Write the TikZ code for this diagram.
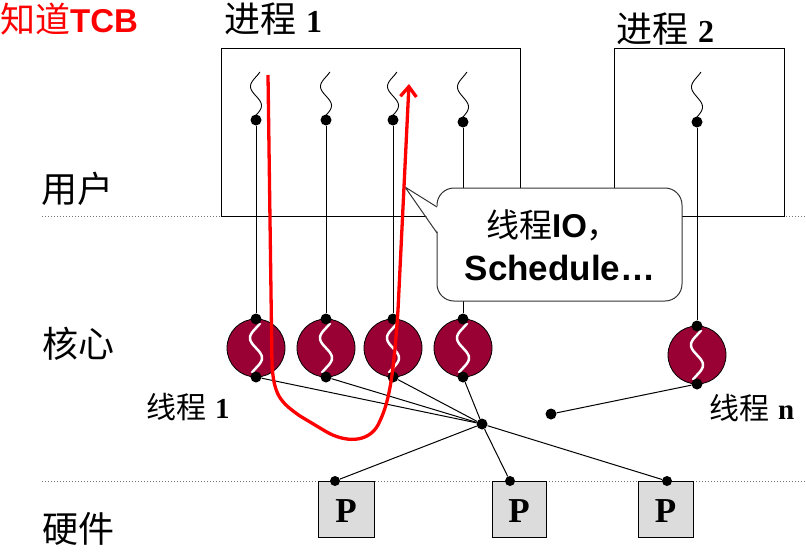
\documentclass[tikz,border=0pt]{standalone}
\usepackage{fontspec}
\setmainfont{Liberation Serif}
\newfontfamily\cjk{Noto Sans CJK SC}
\newfontfamily\arialf{Liberation Sans}
\usetikzlibrary{arrows.meta}
\definecolor{kmaroon}{HTML}{990033}
\definecolor{pgray}{HTML}{DCDCDC}
\begin{document}
\begin{tikzpicture}[x=1pt,y=-1pt,
  dot/.style={circle,fill=black,inner sep=0pt,minimum size=11pt},
  cpu/.style={circle,draw=black,line width=0.8pt,fill=kmaroon,minimum size=58pt,inner sep=0pt},
  pbox/.style={draw=black,line width=1pt,fill=pgray,minimum size=55pt,inner sep=0pt},
  procbox/.style={draw=black,line width=1pt,inner sep=0pt},
  conn/.style={line width=1pt,black},
  sepline/.style={black!55,dotted,line width=1pt},
  lbl/.style={font=\cjk\fontsize{36}{40}\selectfont,anchor=base west,inner sep=0pt},
  slbl/.style={font=\cjk\fontsize{30}{34}\selectfont,anchor=base west,inner sep=0pt},
  btxt/.style={font=\fontsize{33}{38}\selectfont,anchor=base,inner sep=0pt}]
\useasboundingbox (0,0) rectangle (806,552);
% separators
\coordinate (s1a) at (42,216); \coordinate (s1b) at (806,216);
\coordinate (s2a) at (42,481); \coordinate (s2b) at (806,481);
\draw[sepline] (s1a) -- (s1b);
\draw[sepline] (s2a) -- (s2b);
% process boxes
\node[procbox,minimum width=299pt,minimum height=168pt] (proc1) at (370.5,132) {};
\node[procbox,minimum width=170pt,minimum height=168pt] (proc2) at (699,132) {};
% user threads
\foreach \n/\x/\y in {1/256/120,2/326/120,3/393/120,4/463/122,n/697/122}{
  \draw[line width=0.9pt] plot[variable=\t,domain=0:1,samples=40,smooth]
     ({\x-5.5*sin(450*\t-45)},{72+(\y-72)*\t});
  \node[dot] (u\n) at (\x,\y) {};
}
% kernel threads
\foreach \n/\x/\y in {1/256/348,2/326/348,3/393/348,4/463/348,n/697/355}{
  \node[cpu] (k\n) at (\x,\y) {};
  \draw[white,line width=2.5pt] plot[variable=\t,domain=0:1,samples=40,smooth]
     ({\x-6*sin(450*\t-45)},{\y-25+50*\t});
  \node[dot] (t\n) at (\x,\y-29) {};
  \node[dot] (b\n) at (\x,\y+29) {};
}
% hub and processors
\node[dot] (h) at (482,424) {};
\node[dot] (m) at (551,414) {};
\node[pbox,minimum width=56pt,minimum height=56pt] (P1) at (346,509) {};
\node[pbox,minimum width=54pt,minimum height=56pt] (P2) at (519,509) {};
\node[pbox,minimum width=55pt,minimum height=56pt] (P3) at (665.5,509) {};
\node[dot,minimum size=10pt] (p1) at (335,481) {};
\node[dot,minimum size=10pt] (p2) at (510,481) {};
\node[dot,minimum size=10pt] (p3) at (667,481) {};
\node[font=\bfseries\fontsize{35}{40}\selectfont,anchor=base,inner sep=0pt] (P1t) at (346,522) {P};
\node[font=\bfseries\fontsize{35}{40}\selectfont,anchor=base,inner sep=0pt] (P2t) at (519,522) {P};
\node[font=\bfseries\fontsize{35}{40}\selectfont,anchor=base,inner sep=0pt] (P3t) at (665.5,522) {P};
% connectors
\foreach \n in {1,2,3,4,n}{ \draw[conn] (u\n) -- (t\n); }
\foreach \n in {1,2,3,4}{ \draw[conn] (b\n) -- (h); }
\draw[conn] (h) -- (p1);
\draw[conn] (h) -- (p2);
\draw[conn] (h) -- (p3);
\draw[conn] (m) -- (bn);
% callout
\node[draw=black!80,line width=1pt,fill=white,rounded corners=17pt,minimum width=245pt,minimum height=113pt,inner sep=0pt] (bubble) at (559.5,244.5) {};
\coordinate (tip) at (405,187);
\coordinate (ptA) at (437,207);
\coordinate (ptB) at (437,233);
\fill[white] (tip) -- (438.6,207) -- (438.6,233) -- cycle;
\draw[black!80,line width=1pt] (ptA) -- (tip) -- (ptB);
\node[btxt] (bl1) at (553,237) {{\cjk 线程}{\arialf\bfseries IO}{\cjk ，}};
\node[btxt,font=\fontsize{35}{40}\selectfont] (bl2) at (560,280) {\arialf\bfseries Schedule…};
% red path
\draw[red,line width=3.3pt,-{Straight Barb[length=10pt,width=16pt]}]
  (268,75) -- (272,365) .. controls (274,395) and (280,402) .. (300,416)
  -- (325,431) .. controls (345,443) and (368,443) .. (378,425)
  .. controls (388,405) and (393,385) .. (398,310) -- (409,84);
% labels
\node[anchor=base west,inner sep=0pt,red] (title) at (0,32) {{\cjk\fontsize{35}{40}\selectfont 知道}{\arialf\bfseries\fontsize{33}{40}\selectfont TCB}};
\node[lbl] (lp1) at (224,32) {进程\hspace{10pt}{\rmfamily\bfseries\fontsize{32}{36}\selectfont 1}};
\node[lbl] (lp2) at (616,42) {进程\hspace{10pt}{\rmfamily\bfseries\fontsize{32}{36}\selectfont 2}};
\node[lbl] (lu) at (41,202) {用户};
\node[lbl] (lk) at (42,357) {核心};
\node[lbl] (lh) at (42,542) {硬件};
\node[slbl] (lt1) at (146,418) {线程\hspace{9pt}{\rmfamily\bfseries\fontsize{29}{34}\selectfont 1}};
\node[slbl] (ltn) at (709,419) {线程\hspace{9pt}{\rmfamily\bfseries\fontsize{29}{34}\selectfont n}};
\end{tikzpicture}
\end{document}
